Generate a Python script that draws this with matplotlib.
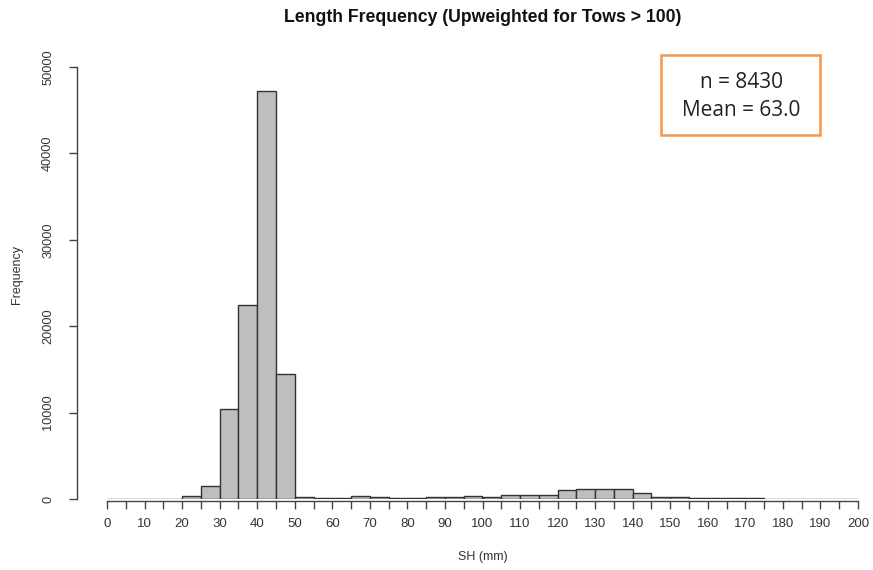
import matplotlib
matplotlib.use("Agg")
import matplotlib.pyplot as plt
from matplotlib.patches import Rectangle
import numpy as np

plt.rcParams['font.family'] = ['Liberation Sans', 'DejaVu Sans']

bin_edges = list(range(0, 205, 5))
counts = [0, 0, 0, 0, 400, 1500, 10400, 22400, 47200, 14500,
          200, 150, 150, 300, 250, 80, 80, 200, 200, 300,
          250, 450, 500, 450, 1000, 1100, 1200, 1100, 650, 250,
          250, 80, 60, 60, 60, 0, 0, 0, 0, 0]
x_tick_labels = list(range(0, 210, 10))
y_ticks = [0, 10000, 20000, 30000, 40000, 50000]
title = "Length Frequency (Upweighted for Tows > 100)"
xlabel = "SH (mm)"
ylabel = "Frequency"
annot_lines = ["n = 8430", "Mean = 63.0"]

W, H = 873, 570
fig = plt.figure(figsize=(W / 100, H / 100), dpi=100)
left, right, top, bottom = 107, 858, 67, 499
ax = fig.add_axes([left / W, 1 - bottom / H, (right - left) / W, (bottom - top) / H])

ax.bar(bin_edges[:-1], counts, width=5, align='edge', color='#bebebe',
       edgecolor='#333333', linewidth=1.0)
ax.set_xlim(0, 200)
ax.set_ylim(0, 50000)

for s in ['top', 'right']:
    ax.spines[s].set_visible(False)
ax.spines['left'].set_position(('outward', 21.6))
ax.spines['bottom'].set_position(('outward', 1.5))
for s in ['left', 'bottom']:
    ax.spines[s].set_color('#444444')
    ax.spines[s].set_linewidth(1.0)

ax.set_xticks(x_tick_labels)
ax.set_xticklabels([str(v) for v in x_tick_labels])
ax.set_xticks(bin_edges, minor=True)
ax.tick_params(axis='x', which='both', length=5.5, width=1.0, color='#444444',
               labelsize=9.5, labelcolor='#333333', pad=7)
ax.set_yticks(y_ticks)
ax.set_yticklabels([str(v) for v in y_ticks], rotation=90, va='center')
ax.tick_params(axis='y', length=5.5, width=1.0, color='#444444',
               labelsize=9.2, labelcolor='#333333', pad=11)

fig.text(483 / W, 1 - 557 / H, xlabel, ha='center', va='center', fontsize=9, color='#333333')
fig.text(17 / W, 1 - 275 / H, ylabel, ha='center', va='center', rotation=90, fontsize=9, color='#333333')
fig.text(483 / W, 1 - 18 / H, title, ha='center', va='center', fontsize=12.7,
         fontweight='bold', color='#111111')

# annotation box
bx0, by0, bx1, by1 = 661, 55, 820, 135
fig.patches.append(Rectangle((bx0 / W, 1 - by1 / H), (bx1 - bx0) / W, (by1 - by0) / H,
                             transform=fig.transFigure, facecolor='white',
                             edgecolor='#f79646', linewidth=1.8))
fig.text(741 / W, 1 - 83 / H, annot_lines[0], ha='center', va='center', fontsize=15,
         family=['Open Sans', 'DejaVu Sans'], color='#222222')
fig.text(741 / W, 1 - 111 / H, annot_lines[1], ha='center', va='center', fontsize=15,
         family=['Open Sans', 'DejaVu Sans'], color='#222222')

fig.savefig("out.png", dpi=100)
